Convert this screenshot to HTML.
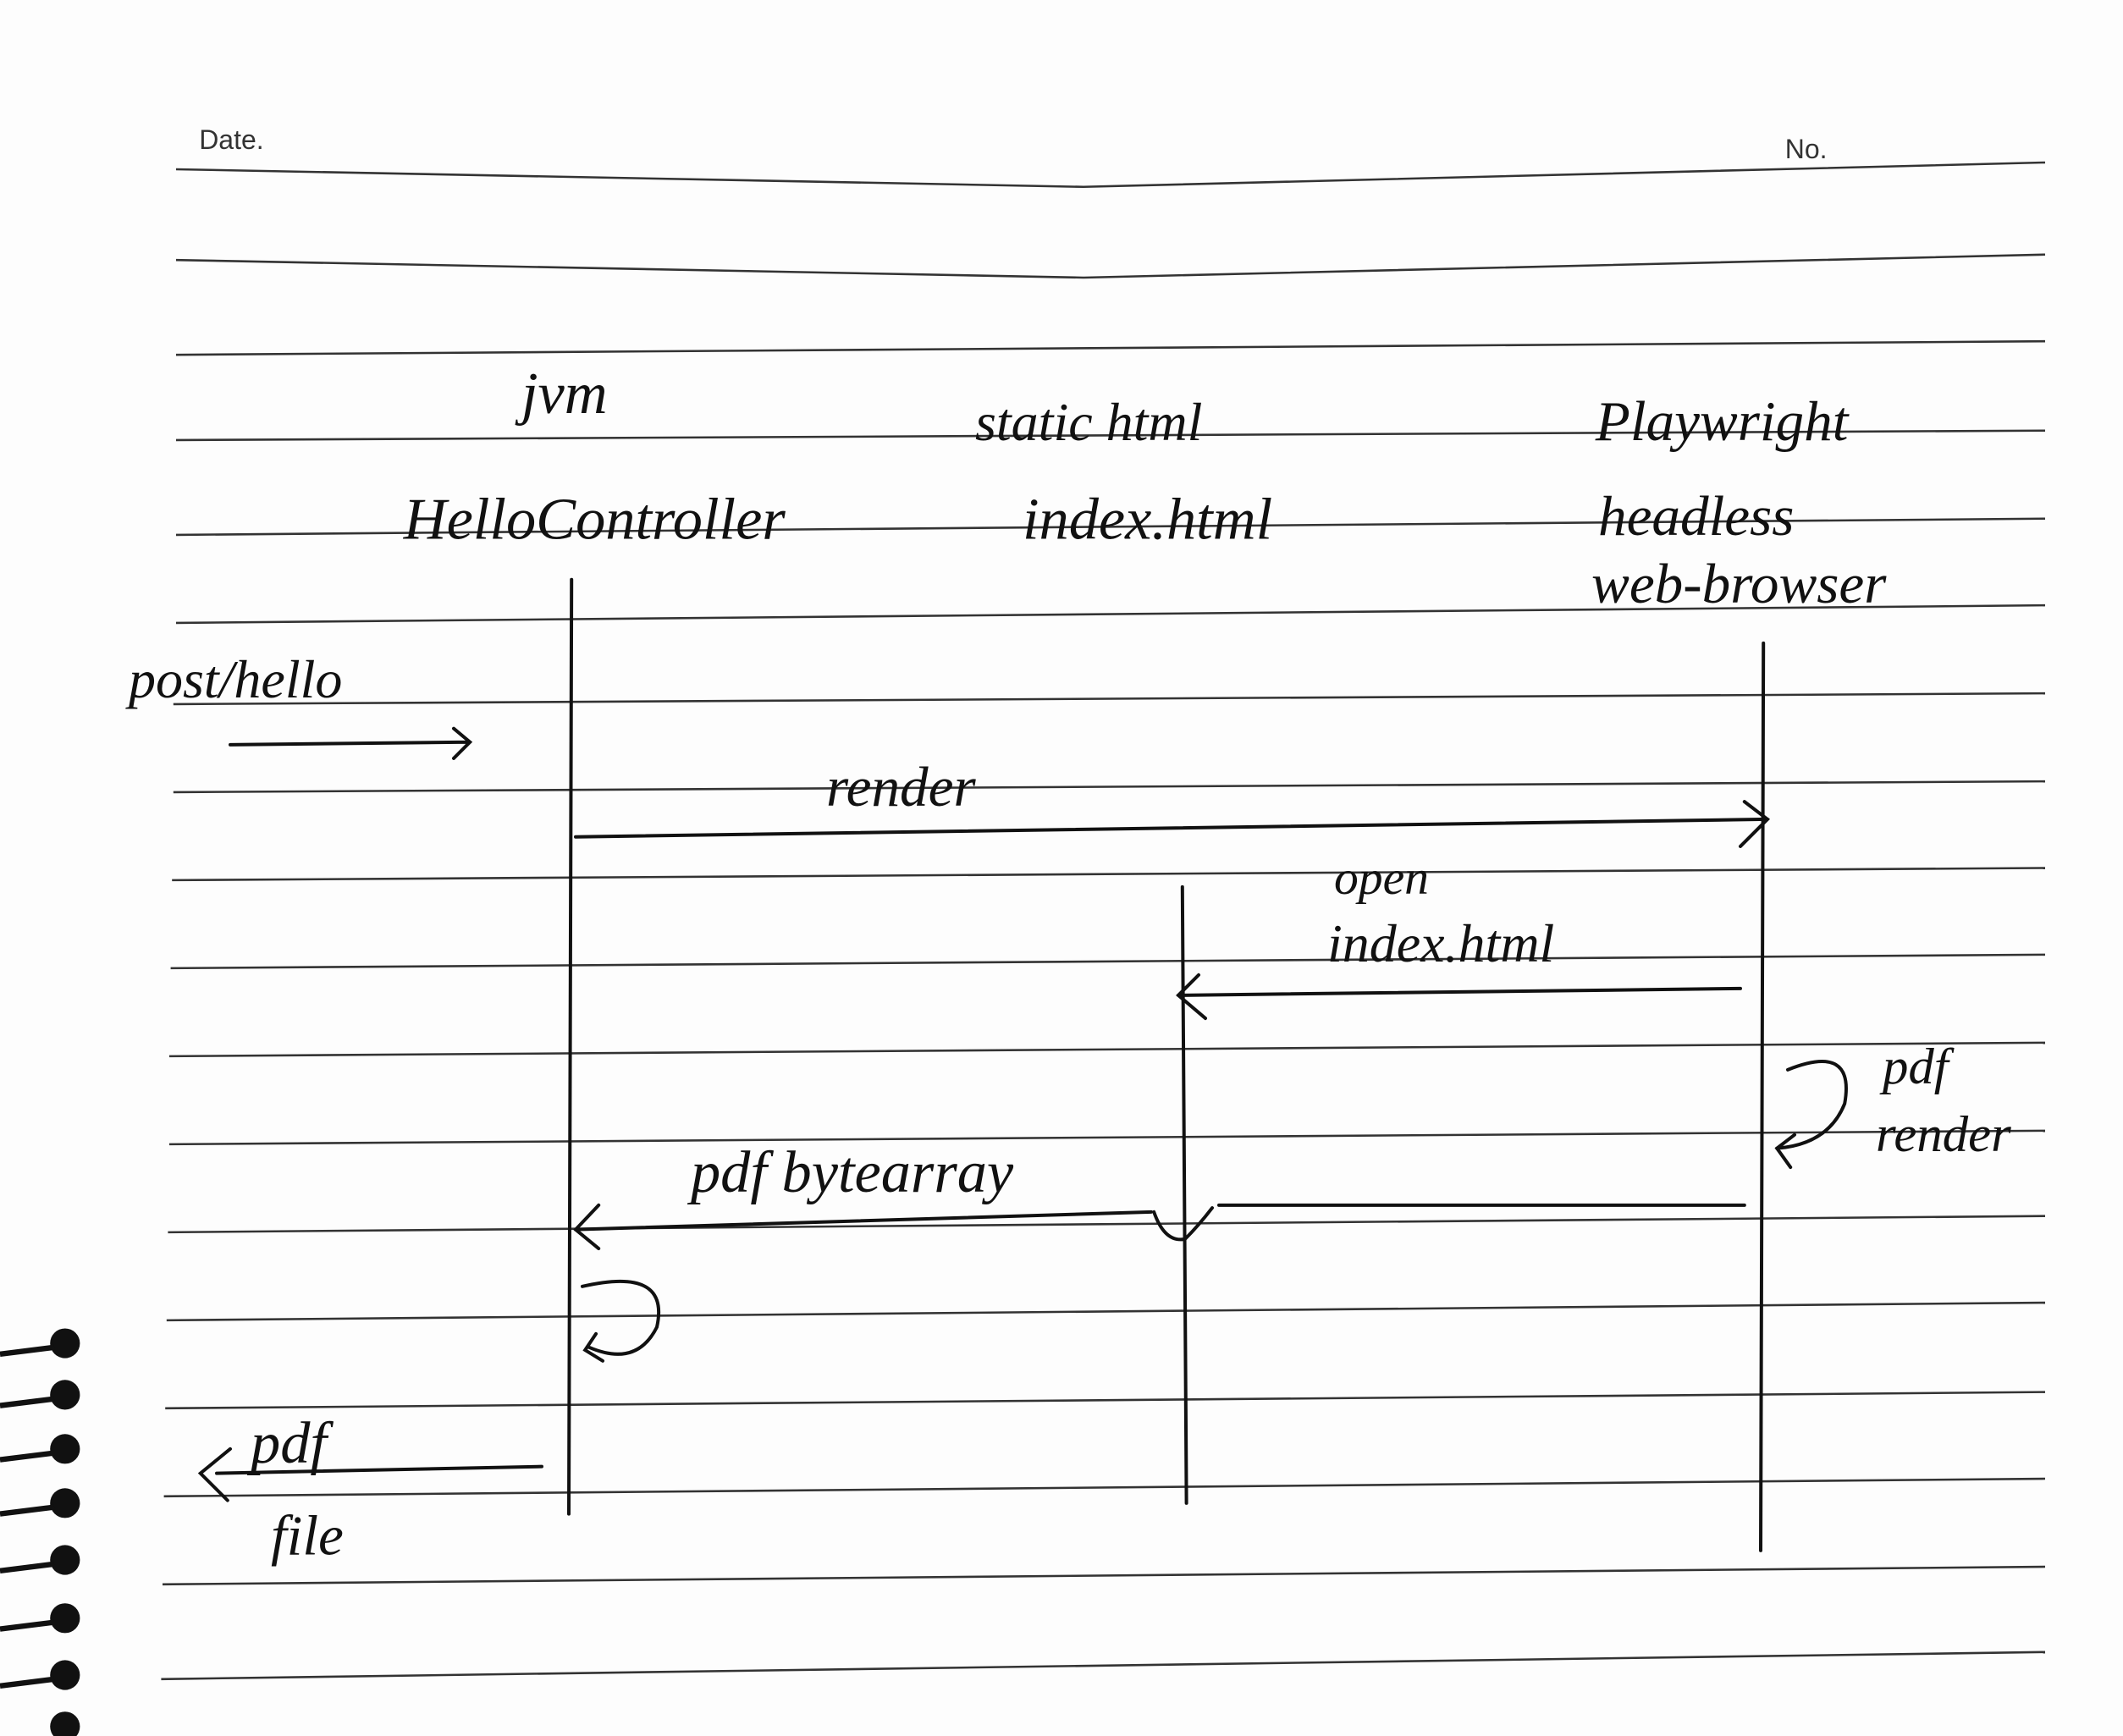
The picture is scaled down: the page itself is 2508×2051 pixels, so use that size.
<!DOCTYPE html>
<html><head><meta charset="utf-8"><style>
html,body{margin:0;padding:0;background:#fff;}
svg{display:block;}
.h{font-family:"Liberation Serif",serif;font-style:italic;fill:#111;}
</style></head><body>
<svg width="2508" height="2051" viewBox="0 0 1567.5 1282" preserveAspectRatio="none" xmlns="http://www.w3.org/2000/svg">
<rect width="1568" height="1282" fill="#fdfdfd"/>
<g stroke="#333" stroke-width="1.6" fill="none">
<path d="M130 125 L800 138 L1510 120"/>
<path d="M130 192 L800 205 L1510 188"/>
<path d="M130 262 L1510 252"/>
<path d="M130 325 L1510 318"/>
<path d="M130 395 L1510 383"/>
<path d="M130 460 L1510 447"/>
<path d="M128 520 L1510 512"/>
<path d="M128 585 L1510 577"/>
<path d="M127 650 L1510 641"/>
<path d="M126 715 L1510 705"/>
<path d="M125 780 L1510 770"/>
<path d="M125 845 L1510 835"/>
<path d="M124 910 L1510 898"/>
<path d="M123 975 L1510 962"/>
<path d="M122 1040 L1510 1028"/>
<path d="M121 1105 L1510 1092"/>
<path d="M120 1170 L1510 1157"/>
<path d="M119 1240 L1510 1220"/>
</g>
<text x="147" y="110" font-family="Liberation Sans,sans-serif" font-size="20" fill="#333">Date.</text>
<text x="1318" y="117" font-family="Liberation Sans,sans-serif" font-size="20" fill="#333">No.</text>
<g stroke="#111" stroke-width="2.5" fill="none" stroke-linecap="round">
<path d="M422 428 L420 1118"/>
<path d="M873 655 L876 1110"/>
<path d="M1302 475 L1300 1145"/>
<path d="M170 550 L345 548 M335 538 L347 548 L335 560"/>
<path d="M425 618 L1305 605 M1288 592 L1305 605 L1285 625"/>
<path d="M1285 730 L870 735 M885 720 L870 735 L890 752"/>
<path d="M1288 890 L900 890"/>
<path d="M850 895 L425 908 M442 890 L425 908 L442 922"/>
<path d="M852 895 Q860 918 875 915 Q885 905 895 892"/>
<path d="M1320 790 Q1370 770 1362 815 Q1350 845 1312 848 M1325 838 L1312 848 L1322 862"/>
<path d="M430 950 Q495 935 485 980 Q470 1010 435 995 M440 985 L432 997 L445 1005"/>
<path d="M400 1083 L160 1088 M170 1070 L148 1088 L168 1108"/>
</g>
<g class="h">
<text x="385" y="305" font-size="44">jvm</text>
<text x="720" y="325" font-size="40">static html</text>
<text x="1178" y="325" font-size="42">Playwright</text>
<text x="298" y="398" font-size="44">HelloController</text>
<text x="755" y="398" font-size="44">index.html</text>
<text x="1180" y="395" font-size="42">headless</text>
<text x="1175" y="445" font-size="42">web-browser</text>
<text x="95" y="515" font-size="40">post/hello</text>
<text x="610" y="595" font-size="42">render</text>
<text x="985" y="660" font-size="36">open</text>
<text x="980" y="710" font-size="40">index.html</text>
<text x="1390" y="800" font-size="38">pdf</text>
<text x="1385" y="850" font-size="38">render</text>
<text x="510" y="880" font-size="44">pdf bytearray</text>
<text x="185" y="1080" font-size="44">pdf</text>
<text x="200" y="1148" font-size="42">file</text>
</g>
<g fill="#111">
<circle cx="48" cy="992" r="11"/><circle cx="48" cy="1030" r="11"/><circle cx="48" cy="1070" r="11"/>
<circle cx="48" cy="1110" r="11"/><circle cx="48" cy="1152" r="11"/><circle cx="48" cy="1195" r="11"/>
<circle cx="48" cy="1237" r="11"/><circle cx="48" cy="1275" r="11"/>
</g>
<g stroke="#111" stroke-width="4" fill="none">
<path d="M0 1000 L40 995 M0 1038 L40 1033 M0 1078 L40 1073 M0 1118 L40 1113 M0 1160 L40 1155 M0 1203 L40 1198 M0 1245 L40 1240"/>
</g>
</svg>
</body></html>
